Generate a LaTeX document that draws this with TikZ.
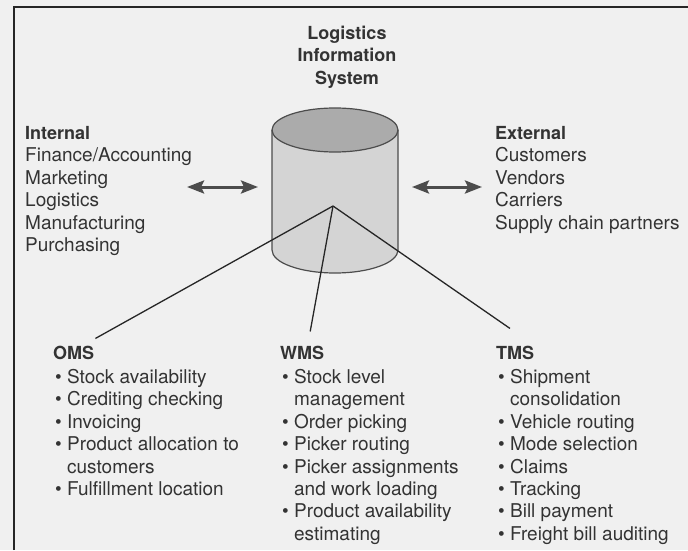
\documentclass[tikz,border=0pt]{standalone}
\usepackage{fontspec}
\setmainfont{TeX Gyre Heros}
\usetikzlibrary{arrows.meta}

\newcommand{\itm}[1]{\textbullet\ #1}
\newcommand{\cnt}[1]{\hphantom{\textbullet\ }#1}

\tikzset{
  twoway/.style={draw=black!70,line width=3pt,
    {Stealth[length=17pt,width=13pt,inset=3pt]}-{Stealth[length=17pt,width=13pt,inset=3pt]}},
  head/.style={font=\fontsize{18}{22.4}\selectfont\bfseries}
}

\begin{document}
\begin{tikzpicture}[x=1pt,y=1pt]
\useasboundingbox (0,0) rectangle (688,550);
\fill[black!6] (0,0) rectangle (688,550);
\draw[black!85,line width=1.5pt] (14,0) -- (14,543);
\draw[black!85,line width=2.2pt] (13.25,543) -- (688,543);

% the database drum
\fill[black!17] (272,420) -- (272,300) arc[start angle=180,end angle=360,x radius=63,y radius=23] -- (398,420) -- cycle;
\filldraw[fill=black!33,draw=black!70,line width=1.2pt] (335,420) ellipse[x radius=63,y radius=22];
\draw[black!70,line width=1.2pt] (272,420) -- (272,300) arc[start angle=180,end angle=360,x radius=63,y radius=23] -- (398,420);

\coordinate (hub) at (333,344);
\coordinate (lisw) at (272,363);
\coordinate (lise) at (398,363);

% multi-line nodes sit on the baseline of their last line
\begin{scope}[every node/.style={text=black!80,inner sep=0pt,align=left,anchor=base west,
              font=\fontsize{19}{22.4}\selectfont}]
    \node[head,align=center,anchor=center] (title) at (347,493) {Logistics\\Information\\System};
    \node (internal) at (25,298.5) {{\bfseries\fontsize{18}{22.4}\selectfont Internal}\\Finance/Accounting\\Marketing\\Logistics\\Manufacturing\\Purchasing};
    \node (external) at (495,320.9) {{\bfseries\fontsize{18}{22.4}\selectfont External}\\Customers\\Vendors\\Carriers\\Supply chain partners};
    \node[head] (oms) at (53,190.5) {OMS};
    \node[head] (wms) at (280,190.5) {WMS};
    \node[head] (tms) at (496,190.5) {TMS};
    \node (omslist) at (55,54.5) {\itm{Stock availability}\\\itm{Crediting checking}\\\itm{Invoicing}\\
        \itm{Product allocation to}\\\cnt{customers}\\\itm{Fulfillment location}};
    \node (wmslist) at (282,9.7) {\itm{Stock level}\\\cnt{management}\\\itm{Order picking}\\\itm{Picker routing}\\
        \itm{Picker assignments}\\\cnt{and work loading}\\\itm{Product availability}\\\cnt{estimating}};
    \node (tmslist) at (498,9.7) {\itm{Shipment}\\\cnt{consolidation}\\\itm{Vehicle routing}\\\itm{Mode selection}\\
        \itm{Claims}\\\itm{Tracking}\\\itm{Bill payment}\\\itm{Freight bill auditing}};
\end{scope}

\begin{scope}[every edge/.style={draw=black!85,line width=1.3pt}]
    \path (hub) edge ([shift={(1pt,7.5pt)}]oms.north east);
    \path (hub) edge ([shift={(8pt,14.5pt)}]wms.north);
    \path (hub) edge ([shift={(14pt,17.5pt)}]tms.north west);
\end{scope}

\path ([xshift=-5pt]internal.east |- lisw) edge[twoway] ([xshift=-14pt]lisw);
\path ([xshift=14pt]lise) edge[twoway] ([xshift=-13pt]external.west |- lise);
\end{tikzpicture}
\end{document}
